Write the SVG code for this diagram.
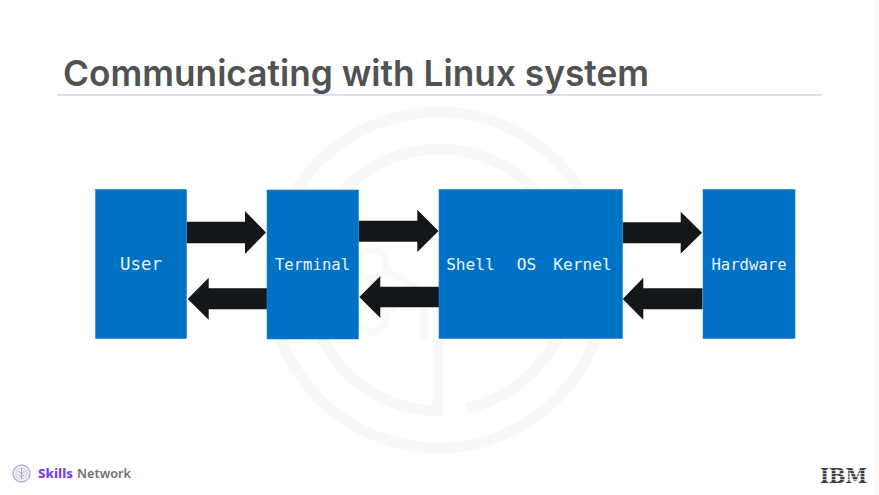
<svg xmlns="http://www.w3.org/2000/svg" width="879" height="495" viewBox="0 0 879 495">
<style>
.box{fill:#0072c6;stroke:#1f86d0;stroke-width:.6}
.lbl{font-family:"DejaVu Sans Mono","Liberation Mono",monospace;fill:#eaf4fb;font-weight:400;text-anchor:middle}
.arr{fill:#14171a}
.wm{fill:none;stroke:#f8f8f9;stroke-width:11}
.wn{fill:none;stroke:#fafafa;stroke-width:7}
</style>
<rect width="879" height="495" fill="#fff"/>
<rect x="873" width="6" height="495" fill="#fbfbfb"/>
<g id="watermark">
<circle class="wm" cx="438" cy="280" r="168"/>
<path class="wm" d="M439 411A131 131 0 1 1 467 408"/>
<path class="wm" d="M438 339V416"/>
<circle class="wn" cx="372" cy="264" r="14"/>
<circle class="wn" cx="372" cy="318" r="14"/>
<path class="wn" d="M386 270L424 292M386 312L424 292M424 292V339"/>
</g>
<text id="title" x="63" y="86" font-family="Inter,'Noto Sans',sans-serif" font-weight="600" font-size="36" fill="#505254" textLength="586" lengthAdjust="spacingAndGlyphs">Communicating with Linux system</text>
<rect id="rule" x="57" y="94.5" width="765" height="1" fill="#bdbbe2"/>
<g id="connectors">
<polygon class="arr" points="186.5,221.7 245,221.7 245,211 266,232.4 245,254 245,243.3 186.5,243.3"/>
<polygon class="arr" points="267,288.3 208.7,288.3 208.7,277.7 187.7,299 208.7,319.7 208.7,309.3 267,309.3"/>
<polygon class="arr" points="358.5,220.7 417.3,220.7 417.3,209.7 438.5,231 417.3,252 417.3,241.7 358.5,241.7"/>
<polygon class="arr" points="439,286.7 380.3,286.7 380.3,276 359.3,297 380.3,318 380.3,307.3 439,307.3"/>
<polygon class="arr" points="622.5,222.3 680.7,222.3 680.7,211.7 702,232.7 680.7,253.7 680.7,243.3 622.5,243.3"/>
<polygon class="arr" points="702.5,288.3 643.3,288.3 643.3,277.7 622.7,299 643.3,319.7 643.3,309.3 702.5,309.3"/>
</g>
<g id="node-user"><rect class="box" x="95.5" y="189.5" width="91" height="149"/><text class="lbl" x="141" y="270" font-size="17.4">User</text></g>
<g id="node-terminal"><rect class="box" x="267" y="190" width="91.5" height="149"/><text class="lbl" x="312.5" y="269.5" font-size="15.6">Terminal</text></g>
<g id="node-os"><rect class="box" x="439" y="189.5" width="183.5" height="149"/><text class="lbl" x="470.5" y="269.5" font-size="16.2">Shell</text><text class="lbl" x="526.5" y="269.5" font-size="16.2">OS</text><text class="lbl" x="582.5" y="269.5" font-size="16.2">Kernel</text></g>
<g id="node-hardware"><rect class="box" x="703" y="189.5" width="92" height="149"/><text class="lbl" x="749" y="269.5" font-size="15.6">Hardware</text></g>
<g id="skills-network">
<circle cx="21.5" cy="473.5" r="8.5" fill="#f1eff8" stroke="#b7b0dc" stroke-width="1.4"/>
<circle cx="21.5" cy="473.5" r="5.6" fill="none" stroke="#c9c4e4" stroke-width=".8"/>
<path d="M21.5 468V479M18.5 471L21.5 474L24.5 471M18.5 474.5L21.5 477L24.5 474.5" fill="none" stroke="#9c95bf" stroke-width=".8"/>
<text x="38" y="478" font-family="'Noto Sans',sans-serif" font-size="13" font-weight="800" fill="#7b3fe4" textLength="35" lengthAdjust="spacingAndGlyphs">Skills</text>
<text x="77" y="478" font-family="'Noto Sans',sans-serif" font-size="13" font-weight="600" fill="#717174" textLength="54" lengthAdjust="spacingAndGlyphs">Network</text>
</g>
<g id="ibm-logo">
<text x="820" y="483" font-family="'DejaVu Serif',serif" font-weight="700" font-size="21" fill="#38383a" textLength="47" lengthAdjust="spacingAndGlyphs">IBM</text>
<path d="M818 467.6H869M818 470.6H869M818 473.6H869M818 476.6H869M818 479.6H869" stroke="#fff" stroke-width=".9" opacity=".8"/>
</g>
</svg>
